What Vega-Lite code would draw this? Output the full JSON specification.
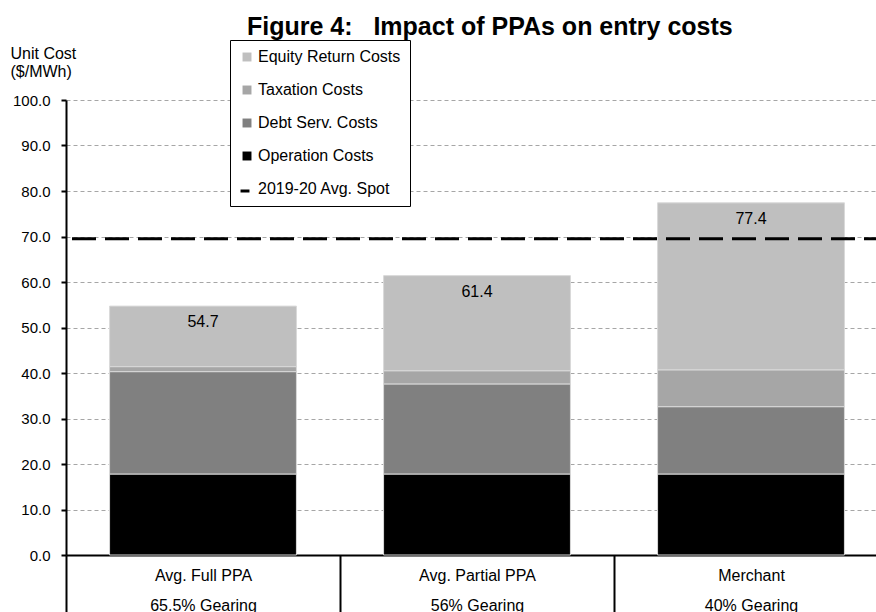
{
  "$schema": "https://vega.github.io/schema/vega-lite/v6.json",
  "width": 822,
  "height": 455,
  "autosize": "none",
  "padding": {"left": 66, "top": 100, "right": 0, "bottom": 57},
  "background": "white",
  "title": {
    "text": "Figure 4:\u00a0\u00a0\u00a0Impact of PPAs on entry costs",
    "anchor": "start",
    "frame": "group",
    "dx": 181,
    "dy": 26,
    "fontSize": 25,
    "fontWeight": "bold",
    "font": "Liberation Sans",
    "color": "black",
    "baseline": "alphabetic",
    "offset": 6
  },
  "config": {
    "font": "Liberation Sans",
    "view": {"stroke": null}
  },
  "datasets": {
    "costs": [
      {"scenario": "Avg. Full PPA\n65.5% Gearing", "component": "Operation Costs", "cost": 17.8},
      {"scenario": "Avg. Full PPA\n65.5% Gearing", "component": "Debt Serv. Costs", "cost": 22.5},
      {"scenario": "Avg. Full PPA\n65.5% Gearing", "component": "Taxation Costs", "cost": 1.1},
      {"scenario": "Avg. Full PPA\n65.5% Gearing", "component": "Equity Return Costs", "cost": 13.3},
      {"scenario": "Avg. Partial PPA\n56% Gearing", "component": "Operation Costs", "cost": 17.8},
      {"scenario": "Avg. Partial PPA\n56% Gearing", "component": "Debt Serv. Costs", "cost": 19.8},
      {"scenario": "Avg. Partial PPA\n56% Gearing", "component": "Taxation Costs", "cost": 2.9},
      {"scenario": "Avg. Partial PPA\n56% Gearing", "component": "Equity Return Costs", "cost": 20.9},
      {"scenario": "Merchant\n40% Gearing", "component": "Operation Costs", "cost": 17.8},
      {"scenario": "Merchant\n40% Gearing", "component": "Debt Serv. Costs", "cost": 14.8},
      {"scenario": "Merchant\n40% Gearing", "component": "Taxation Costs", "cost": 8.1},
      {"scenario": "Merchant\n40% Gearing", "component": "Equity Return Costs", "cost": 36.7}
    ],
    "totals": [
      {"scenario": "Avg. Full PPA\n65.5% Gearing", "total": 54.7},
      {"scenario": "Avg. Partial PPA\n56% Gearing", "total": 61.4},
      {"scenario": "Merchant\n40% Gearing", "total": 77.4}
    ],
    "spot": [
      {"series": "2019-20 Avg. Spot", "price": 69.5}
    ]
  },
  "layer": [
    {
      "data": {"name": "costs"},
      "transform": [
        {"calculate": "indexof(['Operation Costs','Debt Serv. Costs','Taxation Costs','Equity Return Costs'], datum.component)", "as": "stackOrder"}
      ],
      "mark": {"type": "bar", "stroke": "#d9d9d9", "strokeWidth": 1, "width": {"band": 0.682}},
      "encoding": {
        "x": {
          "field": "scenario",
          "type": "nominal",
          "sort": null,
          "scale": {"paddingInner": 0, "paddingOuter": 0},
          "axis": {
            "title": null,
            "labelAngle": 0,
            "labelExpr": "split(datum.label, '\\n')",
            "labelFontSize": 16,
            "labelColor": "black",
            "labelLineHeight": 30,
            "labelBaseline": "top",
            "labelPadding": -50,
            "tickBand": "extent",
            "tickSize": 62,
            "tickColor": "black",
            "tickWidth": 2,
            "domainColor": "black",
            "domainWidth": 2,
            "grid": false
          }
        },
        "y": {
          "field": "cost",
          "type": "quantitative",
          "stack": "zero",
          "scale": {"domain": [0, 100], "nice": false},
          "axis": {
            "title": ["Unit Cost", "($/MWh)"],
            "titleAngle": 0,
            "titleAlign": "left",
            "titleBaseline": "top",
            "titleX": -56,
            "titleY": -55,
            "titleFontSize": 16,
            "titleFontWeight": "normal",
            "titleColor": "black",
            "titleLineHeight": 18,
            "values": [0, 10, 20, 30, 40, 50, 60, 70, 80, 90, 100],
            "format": ".1f",
            "labelFontSize": 15,
            "labelColor": "black",
            "labelPadding": 11,
            "tickSize": 5,
            "tickColor": "black",
            "tickWidth": 2,
            "domainColor": "black",
            "domainWidth": 2,
            "grid": true,
            "gridColor": "#a6a6a6",
            "gridDash": [4, 3],
            "gridWidth": 1
          }
        },
        "color": {
          "field": "component",
          "type": "nominal",
          "scale": {
            "domain": ["Equity Return Costs", "Taxation Costs", "Debt Serv. Costs", "Operation Costs", "2019-20 Avg. Spot"],
            "range": ["#bfbfbf", "#a6a6a6", "#808080", "#000000", "transparent"]
          },
          "legend": {
            "title": null,
            "orient": "none",
            "legendX": 164,
            "legendY": -60,
            "direction": "vertical",
            "strokeColor": "black",
            "fillColor": "white",
            "padding": 9,
            "labelFontSize": 16,
            "labelColor": "black",
            "labelOffset": 3,
            "symbolSize": 80,
            "symbolType": "square",
            "symbolStrokeWidth": 0,
            "rowPadding": 17,
            "encode": {
              "legend": {
                "strokeWidth": {"value": 2}
              }
            }
          }
        },
        "order": {"field": "stackOrder", "type": "quantitative"}
      }
    },
    {
      "data": {"name": "spot"},
      "mark": {"type": "rule", "color": "black", "strokeWidth": 3},
      "encoding": {
        "y": {"field": "price", "type": "quantitative"},
        "strokeDash": {
          "field": "series",
          "type": "nominal",
          "scale": {"range": [[24, 9]]},
          "legend": {
            "title": null,
            "orient": "none",
            "legendX": 173,
            "legendY": 85,
            "padding": 0,
            "labelExpr": "''",
            "labelFontSize": 1,
            "labelOffset": 0,
            "symbolType": "stroke",
            "symbolSize": 80,
            "symbolStrokeWidth": 3,
            "symbolStrokeColor": "black"
          }
        }
      }
    },
    {
      "data": {"name": "totals"},
      "mark": {"type": "text", "fontSize": 16, "color": "black", "baseline": "middle", "dy": 16},
      "encoding": {
        "x": {"field": "scenario", "type": "nominal", "sort": null},
        "y": {"field": "total", "type": "quantitative"},
        "text": {"field": "total", "type": "quantitative", "format": ".1f"}
      }
    }
  ]
}
